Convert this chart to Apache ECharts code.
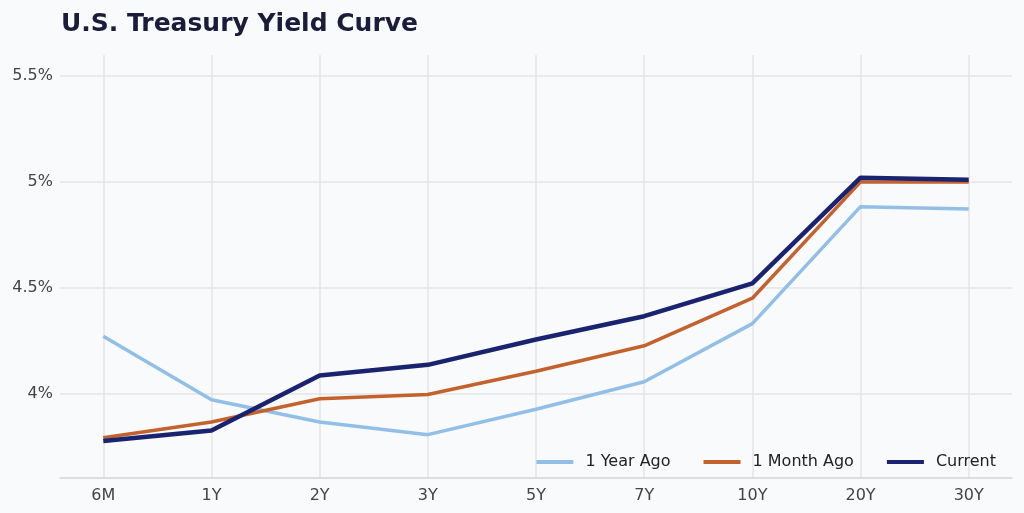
<!DOCTYPE html>
<html><head><meta charset="utf-8">
<script src="https://cdn.jsdelivr.net/npm/echarts@6/dist/echarts.min.js"></script>
<style>html,body{margin:0;padding:0;background:#f9fafc}#c{width:1024px;height:513px}</style>
</head><body><div id="c"></div>
<script>
const categories = ['6M','1Y','2Y','3Y','5Y','7Y','10Y','20Y','30Y'];
const yearAgo  = [4.27, 3.97, 3.865, 3.805, 3.925, 4.055, 4.33, 4.883, 4.872];
const monthAgo = [3.79, 3.865, 3.975, 3.995, 4.105, 4.225, 4.45, 5.0, 5.0];
const current  = [3.775, 3.825, 4.085, 4.135, 4.255, 4.365, 4.52, 5.02, 5.01];
const yTicks = [4, 4.5, 5, 5.5];
const seriesNames = ['1 Year Ago','1 Month Ago','Current'];
const colors = ['#92bfe8','#c4622d','#1a2370'];

const toPts = arr => arr.map((v,i)=>[i,v]);
const chart = echarts.init(document.getElementById('c'));
const font = 'DejaVu Sans';
chart.setOption({
  backgroundColor:'#f9fafc',
  animation:false,
  title:{text:'U.S. Treasury Yield Curve',left:56,top:7,
    textStyle:{fontFamily:font,fontSize:25,fontWeight:'bold',color:'#1c1c3a'}},
  grid:{left:60,right:12,top:55,bottom:35,containLabel:false},
  legend:{data:seriesNames,right:23,bottom:38,itemWidth:37,itemHeight:4,itemGap:33,
    icon:'rect',textStyle:{fontFamily:font,fontSize:16,color:'#222',padding:[0,0,0,7]}},
  xAxis:{type:'value',min:-0.4,max:8.4,
    axisLine:{show:true,lineStyle:{color:'#d4d4d8',width:1.5}},
    axisTick:{show:false,customValues:categories.map((c,i)=>i)},
    axisLabel:{customValues:categories.map((c,i)=>i),formatter:v=>categories[Math.round(v)],
      fontFamily:font,fontSize:16,color:'#444',margin:10},
    splitLine:{show:true,lineStyle:{color:'#e4e4e6',width:1.5}}},
  yAxis:{type:'value',min:3.6,max:5.6,
    axisLine:{show:false},
    axisTick:{show:false,customValues:yTicks},
    axisLabel:{customValues:yTicks,formatter:v=>v+'%',fontFamily:font,fontSize:16,color:'#444',margin:7},
    splitLine:{show:true,lineStyle:{color:'#e4e4e6',width:1.5}}},
  series:[
    {name:seriesNames[0],type:'line',data:toPts(yearAgo),symbol:'none',lineStyle:{width:3.5,color:colors[0]},itemStyle:{color:colors[0]},z:2},
    {name:seriesNames[1],type:'line',data:toPts(monthAgo),symbol:'none',lineStyle:{width:3.5,color:colors[1]},itemStyle:{color:colors[1]},z:3},
    {name:seriesNames[2],type:'line',data:toPts(current),symbol:'none',lineStyle:{width:4.5,color:colors[2]},itemStyle:{color:colors[2]},z:4}
  ]
});
</script></body></html>
